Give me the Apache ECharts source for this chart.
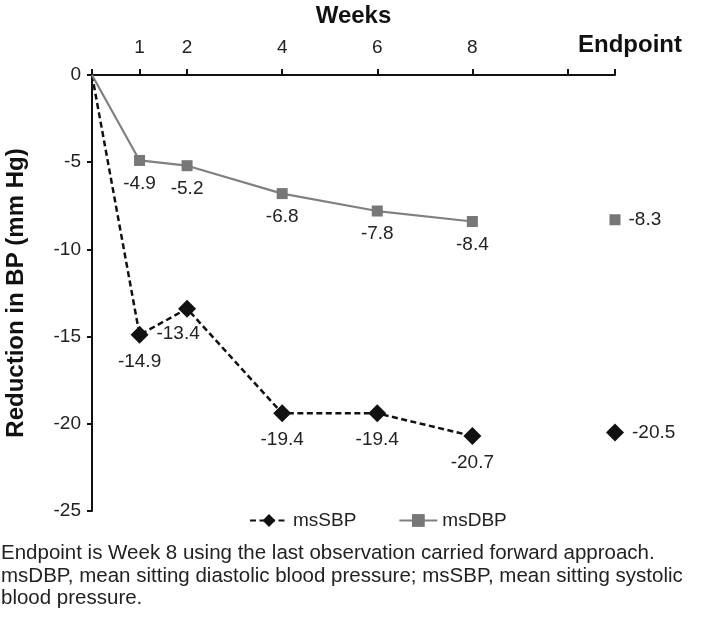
<!DOCTYPE html>
<html><head><meta charset="utf-8">
<script src="https://cdn.jsdelivr.net/npm/echarts@6/dist/echarts.min.js"></script>
<style>html,body{margin:0;padding:0;background:#fff}#c{width:720px;height:630px}</style>
</head><body><div id="c"></div>
<script>
// Data
const weeks = [0, 1, 2, 4, 6, 8];
const endpointX = 11;           // axis position used for the "Endpoint" category
const msSBP = [0, -14.9, -13.4, -19.4, -19.4, -20.7];
const msSBPEndpoint = -20.5;
const msDBP = [0, -4.9, -5.2, -6.8, -7.8, -8.4];
const msDBPEndpoint = -8.3;
const xTickLabels = [1, 2, 4, 6, 8];
const xTickMarks = [0, 1, 2, 4, 6, 8, 10, 11];
const caption = [
  'Endpoint is Week 8 using the last observation carried forward approach.',
  'msDBP, mean sitting diastolic blood pressure; msSBP, mean sitting systolic',
  'blood pressure.'
];

const FONT = '"Liberation Sans", Arial, sans-serif';

function buildSeriesData(vals, endVal, labelCfg, endLabelCfg) {
  const d = weeks.map((w, i) => {
    const item = { value: [w, vals[i]] };
    if (i === 0) { item.symbol = 'none'; item.label = { show: false }; }
    else if (labelCfg[i]) item.label = labelCfg[i];
    return item;
  });
  d.push({ value: [10, '-'] });
  d.push({ value: [endpointX, endVal], label: endLabelCfg });
  return d;
}

const B = { position: 'bottom' };
const chart = echarts.init(document.getElementById('c'), null, { renderer: 'canvas' });
chart.setOption({
  animation: false,
  textStyle: { fontFamily: FONT },
  grid: { left: 92, right: 105, top: 75, height: 436, containLabel: false, outerBoundsMode: 'none' },
  xAxis: {
    type: 'value', position: 'top', min: 0, max: endpointX,
    name: 'Weeks', nameLocation: 'middle', nameGap: 47,
    nameTextStyle: { fontSize: 24, fontWeight: 'bold', color: '#111', fontFamily: FONT },
    axisLine: { show: true, onZero: false, lineStyle: { color: '#111', width: 2 } },
    axisTick: { show: true, inside: false, length: 6, customValues: xTickMarks, lineStyle: { color: '#111', width: 2 } },
    axisLabel: {
      customValues: xTickLabels.concat([endpointX]), margin: 18,
      fontSize: 19, color: '#222', fontFamily: FONT,
      formatter: v => v === endpointX ? '{e|Endpoint}' : String(v),
      rich: { e: { fontSize: 24, fontWeight: 'bold', color: '#111', fontFamily: FONT, padding: [0, 0, 0, 30] } }
    },
    splitLine: { show: false }
  },
  yAxis: {
    type: 'value', min: -25, max: 0, interval: 5,
    name: 'Reduction in BP (mm Hg)', nameLocation: 'middle', nameGap: 64, nameRotate: 90,
    nameTextStyle: { fontSize: 24, fontWeight: 'bold', color: '#111', fontFamily: FONT },
    axisLine: { show: true, onZero: false, lineStyle: { color: '#111', width: 2 } },
    axisTick: { show: true, length: 5, lineStyle: { color: '#111', width: 2 } },
    axisLabel: { fontSize: 19, color: '#222', margin: 11, fontFamily: FONT },
    splitLine: { show: false }
  },
  legend: {
    top: 506, left: 244, itemWidth: 38, itemHeight: 16, itemGap: 42,
    textStyle: { fontSize: 19, color: '#222', fontFamily: FONT },
    data: ['msSBP', 'msDBP']
  },
  series: [
    {
      name: 'msSBP', type: 'line',
      data: buildSeriesData(msSBP, msSBPEndpoint,
        [null, B, { position: 'bottom', offset: [-9, -1] }, B, B, B], { position: 'right' }),
      symbol: 'diamond', symbolSize: 18, showSymbol: true, connectNulls: false,
      lineStyle: { color: '#111', width: 2.5, type: [6, 3.5] },
      itemStyle: { color: '#111' },
      label: { show: true, fontSize: 19, color: '#222', distance: 8, fontFamily: FONT }
    },
    {
      name: 'msDBP', type: 'line',
      data: buildSeriesData(msDBP, msDBPEndpoint, [null, B, B, B, B, B], { position: 'right' }),
      symbol: 'rect', symbolSize: 11, showSymbol: true, connectNulls: false,
      lineStyle: { color: '#808080', width: 2.2 },
      itemStyle: { color: '#777' },
      label: { show: true, fontSize: 19, color: '#222', distance: 8, fontFamily: FONT }
    }
  ],
  graphic: caption.map((t, i) => ({
    type: 'text', left: 1, top: 543 + i * 22.5,
    style: { text: t, fontSize: 20.5, fill: '#222', fontFamily: FONT }
  }))
});
</script>
</body></html>
